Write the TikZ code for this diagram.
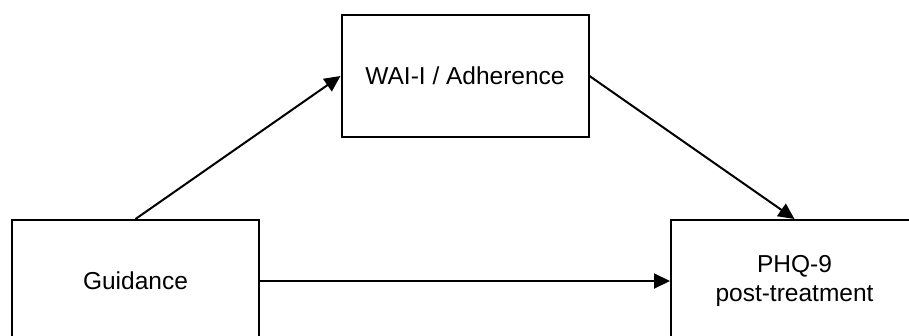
\documentclass[tikz,border=0pt]{standalone}
\usepackage{fontspec}
\setmainfont{Liberation Sans}
\usetikzlibrary{arrows.meta}
\begin{document}
\begin{tikzpicture}[x=1pt,y=-1pt,
  box/.style={draw=black, line width=2pt, minimum width=247pt, minimum height=122pt,
    inner sep=0pt, align=center, font=\fontsize{24.5}{29}\selectfont},
  link/.style={line width=2pt, -{Triangle[length=16pt,width=15pt]}}]
  \useasboundingbox (0,0) rectangle (909,335);
  \fill[white] (0,0) rectangle (909,335);
  \clip (0,0) rectangle (909,335);
  % the three variables of the mediation model
  \node[box] (guid) at (135.5,281) {Guidance};
  \node[box] (wai)  at (465,76)    {WAI-I / Adherence};
  \node[box] (phq)  at (794.5,281) {PHQ-9\\post-treatment};
  % paths
  \draw[link] (guid.north) -- (wai.west);
  \draw[link] (wai.east) -- (phq.north);
  \draw[link] (guid.east) -- (phq.west);
\end{tikzpicture}
\end{document}
